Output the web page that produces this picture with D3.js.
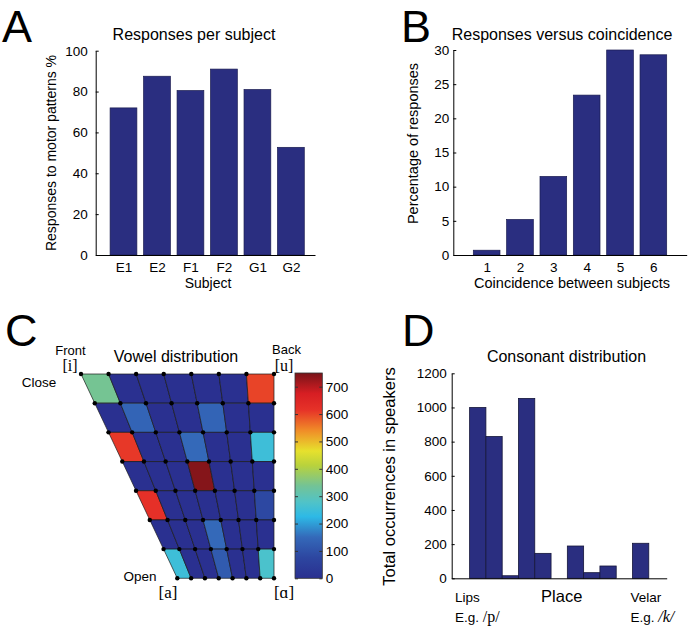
<!DOCTYPE html>
<html><head><meta charset="utf-8">
<script src="https://cdn.jsdelivr.net/npm/d3@7"></script>
<style>
html,body{margin:0;padding:0;background:#fff;}
text{font-family:"Liberation Sans",Arial,Helvetica,sans-serif;fill:#000;}
</style></head>
<body><div id="chart"></div>
<script>
// ---------- DATA ----------
const subjects = ["E1","E2","F1","F2","G1","G2"];
const subjectValues = [72, 87.5, 80.5, 91, 81, 52.7];
const subjectTicks = [0,20,40,60,80,100];

const coincidenceLevels = [1,2,3,4,5,6];
const coincidenceValues = [0.7, 5.2, 11.5, 23.4, 30, 29.3];
const coincidenceTicks = [0,5,10,15,20,25,30];

// vowel grid: rows close -> open, columns front -> back
const vowelRow0 = [340, 0, 0, 0, 0, 0, 600];
const vowelRow1 = [0, 140, 0, 0, 140, 0, 0];
const vowelRow2 = [610, 0, 0, 150, 0, 0, 250];
const vowelRow3 = [0, 0, 0, 740, 0, 0, 0];
const vowelRow4 = [620, 0, 0, 0, 0, 0, 80];
const vowelRow5 = [0, 0, 0, 150, 0, 0, 0];
const vowelRow6 = [250, 0, 0, 120, 0, 0, 270];
const vowelTicks = [0,100,200,300,400,500,600,700];

const consonantBins = [1,2,3,4,5,6,7,8,9,10,11];
const consonantValues = [1000, 830, 15, 1053, 146, 0, 189, 33, 72, 0, 205];
const consonantTicks = [0,200,400,600,800,1000,1200];

// colormap (jet-like, as rendered in the figure)
const cmapPos = [0, 0.1, 0.2, 0.3, 0.37, 0.45, 0.55, 0.62, 0.72, 0.82, 0.9, 1.0];
const cmapCol = ["#2a3090","#2d46a0","#3469b9","#2db9e6","#50c3c8","#73c396",
                 "#b9d23c","#e6e12d","#f08c28","#e63228","#d71e23","#781419"];

// ---------- SETUP ----------
const W = 691, H = 629;
const svg = d3.select("#chart").append("svg").attr("width", W).attr("height", H)
  .style("background","#fff");
const barFill = "#2a2e80", barStroke = "#1a1c50";
const tickFont = "13.5px";
const intFmt = d3.format("d");

function panelLetter(t, x, y){
  svg.append("text").attr("x", x).attr("y", y).attr("font-size", "45px").text(t);
}
function styleAxis(g){
  g.selectAll("path.domain").attr("stroke","#000").attr("stroke-width",1);
  g.selectAll("line").attr("stroke","#000");
  g.selectAll("text").attr("font-size", tickFont).attr("font-family","Liberation Sans, Arial, sans-serif").attr("fill","#000");
}

// ---------- PANEL A ----------
(function(){
  const x = d3.scaleLinear().domain([0.17, 6.72]).range([95.7, 315]);
  const y = d3.scaleLinear().domain([0, 100]).range([255, 50.7]);
  const idx = subjects.map((s,i)=>i+1);
  svg.append("g").selectAll("rect").data(subjectValues).join("rect")
    .attr("x",(d,i)=>x(idx[i]-0.4)).attr("width", x(1.4)-x(0.6))
    .attr("y", d=>y(d)).attr("height", d=>y(0)-y(d))
    .attr("fill", barFill).attr("stroke", barStroke).attr("stroke-width",0.7);
  const ya = svg.append("g").attr("transform","translate(95.7,0)")
    .call(d3.axisLeft(y).tickValues(subjectTicks).tickFormat(intFmt).tickSize(-3).tickSizeOuter(0).tickPadding(8));
  styleAxis(ya);
  const xa = svg.append("g").attr("transform","translate(0,255)")
    .call(d3.axisBottom(x).tickValues(idx).tickFormat((d,i)=>subjects[i]).tickSize(0).tickSizeOuter(0).tickPadding(7.4));
  styleAxis(xa);
  svg.append("text").attr("x",194).attr("y",39.5).attr("text-anchor","middle").attr("font-size","16px").text("Responses per subject");
  svg.append("text").attr("x",208).attr("y",288).attr("text-anchor","middle").attr("font-size","14px").text("Subject");
  svg.append("text").attr("transform","translate(55.5,153) rotate(-90)").attr("text-anchor","middle").attr("font-size","14px").text("Responses to motor patterns %");
  panelLetter("A", 2, 41.5);
})();

// ---------- PANEL B ----------
(function(){
  const x = d3.scaleLinear().domain([0, 7]).range([453.3, 686.7]);
  const y = d3.scaleLinear().domain([0, 30]).range([255, 50]);
  svg.append("g").selectAll("rect").data(coincidenceValues).join("rect")
    .attr("x",(d,i)=>x(coincidenceLevels[i]-0.4)).attr("width", x(0.8)-x(0))
    .attr("y", d=>y(d)).attr("height", d=>y(0)-y(d))
    .attr("fill", barFill).attr("stroke", barStroke).attr("stroke-width",0.7);
  const ya = svg.append("g").attr("transform","translate(453.3,0)")
    .call(d3.axisLeft(y).tickValues(coincidenceTicks).tickFormat(intFmt).tickSize(-3).tickSizeOuter(0).tickPadding(4));
  styleAxis(ya);
  const xa = svg.append("g").attr("transform","translate(0,255)")
    .call(d3.axisBottom(x).tickValues(coincidenceLevels).tickFormat(intFmt).tickSize(0).tickSizeOuter(0).tickPadding(7.4));
  styleAxis(xa);
  svg.append("text").attr("x",562).attr("y",39.5).attr("text-anchor","middle").attr("font-size","16px").text("Responses versus coincidence");
  svg.append("text").attr("x",572).attr("y",288).attr("text-anchor","middle").attr("font-size","14.5px").text("Coincidence between subjects");
  svg.append("text").attr("transform","translate(418,143.5) rotate(-90)").attr("text-anchor","middle").attr("font-size","14.5px").text("Percentage of responses");
  panelLetter("B", 401, 41.5);
})();

// ---------- PANEL C ----------
(function(){
  const vowelValues = [vowelRow0, vowelRow1, vowelRow2, vowelRow3, vowelRow4, vowelRow5, vowelRow6];
  const nR = vowelValues.length, nC = vowelRow0.length;
  const rowY = d3.scaleLinear().domain([0, nR]).range([374, 578.3]);
  const leftX = d3.scaleLinear().domain([0, nR]).range([81, 177.3]);
  const rightX = 274;
  const vx = (i,j) => d3.scaleLinear().domain([0, nC]).range([leftX(i), rightX])(j);
  const color = d3.scaleLinear().domain(cmapPos.map(p=>p*750)).range(cmapCol).clamp(true);
  const cells = [];
  vowelValues.forEach((row,i)=>row.forEach((v,j)=>cells.push({i,j,v})));
  svg.append("g").selectAll("polygon").data(cells).join("polygon")
    .attr("points", d=>[[vx(d.i,d.j),rowY(d.i)],[vx(d.i,d.j+1),rowY(d.i)],[vx(d.i+1,d.j+1),rowY(d.i+1)],[vx(d.i+1,d.j),rowY(d.i+1)]].map(p=>p.join(",")).join(" "))
    .attr("fill", d=>color(d.v)).attr("stroke","#1a1a1a").attr("stroke-width",0.7);
  const verts = [];
  for(let i=0;i<=nR;i++) for(let j=0;j<=nC;j++) verts.push([vx(i,j), rowY(i)]);
  svg.append("g").selectAll("circle").data(verts).join("circle")
    .attr("cx",d=>d[0]).attr("cy",d=>d[1]).attr("r",2.2).attr("fill","#000");

  // colorbar
  const cb = d3.scaleLinear().domain([0, 750]).range([578.3, 373]);
  const defs = svg.append("defs");
  const lg = defs.append("linearGradient").attr("id","cbgrad").attr("x1",0).attr("y1",1).attr("x2",0).attr("y2",0);
  cmapPos.forEach((p,k)=>lg.append("stop").attr("offset",p).attr("stop-color",cmapCol[k]));
  svg.append("rect").attr("x",295).attr("y",cb(750)).attr("width",27.3).attr("height",cb(0)-cb(750))
    .attr("fill","url(#cbgrad)").attr("stroke","#333").attr("stroke-width",0.8);
  const cba = svg.append("g").attr("transform","translate(322.3,0)")
    .call(d3.axisRight(cb).tickValues(vowelTicks).tickFormat(intFmt).tickSize(-3).tickSizeOuter(0).tickPadding(3.5));
  styleAxis(cba);
  cba.select("path.domain").remove();
  cba.selectAll("line").attr("stroke","#333");
  const cbl = svg.append("g").attr("transform","translate(295,0)")
    .call(d3.axisLeft(cb).tickValues(vowelTicks).tickSize(-3).tickFormat(""));
  cbl.select("path.domain").remove();
  cbl.selectAll("line").attr("stroke","#333");

  svg.append("text").attr("x",176).attr("y",361.5).attr("text-anchor","middle").attr("font-size","16px").text("Vowel distribution");
  const lab = (t,x,y,fs,anchor,serif)=>svg.append("text").attr("x",x).attr("y",y).attr("font-size",fs)
    .attr("text-anchor",anchor).style("font-family", serif ? "'Liberation Serif','DejaVu Serif',serif" : null).text(t);
  lab("Front",70.5,354.5,"13px","middle");
  lab("[i]",70,371,"16px","middle",true);
  lab("Back",286.5,354,"13px","middle");
  lab("[u]",284,371,"16px","middle",true);
  lab("Close",39,386.5,"13.5px","middle");
  lab("Open",140,580.5,"13.5px","middle");
  lab("[a]",168,598,"17px","middle",true);
  lab("[\u0251]",284,598,"17px","middle",true);
  panelLetter("C", 5, 346);
})();

// ---------- PANEL D ----------
(function(){
  const x = d3.scaleLinear().domain([-0.6, 12.6]).range([451.7, 666.7]);
  const y = d3.scaleLinear().domain([0, 1200]).range([578.3, 373.3]);
  const data = consonantValues.map((v,i)=>({b:consonantBins[i], v})).filter(d=>d.v>0);
  svg.append("g").selectAll("rect").data(data).join("rect")
    .attr("x", d=>x(d.b-0.5)).attr("width", x(1)-x(0))
    .attr("y", d=>y(d.v)).attr("height", d=>y(0)-y(d.v))
    .attr("fill", barFill).attr("stroke", "#15163a").attr("stroke-width",0.8);
  const ya = svg.append("g").attr("transform","translate(451.7,0)")
    .call(d3.axisLeft(y).tickValues(consonantTicks).tickFormat(intFmt).tickSize(-3).tickSizeOuter(0).tickPadding(5));
  styleAxis(ya);
  const xa = svg.append("g").attr("transform","translate(0,578.3)")
    .call(d3.axisBottom(x).tickValues([]).tickSize(0).tickSizeOuter(0));
  styleAxis(xa);
  svg.append("text").attr("x",566.5).attr("y",361.5).attr("text-anchor","middle").attr("font-size","16px").text("Consonant distribution");
  svg.append("text").attr("transform","translate(394.5,476.5) rotate(-90)").attr("text-anchor","middle").attr("font-size","16.5px").text("Total occurrences in speakers");
  svg.append("text").attr("x",455).attr("y",601.5).attr("font-size","13.5px").text("Lips");
  svg.append("text").attr("x",561.7).attr("y",601.5).attr("text-anchor","middle").attr("font-size","16.5px").text("Place");
  svg.append("text").attr("x",630.5).attr("y",601.5).attr("font-size","13.5px").text("Velar");
  const e1 = svg.append("text").attr("x",455).attr("y",621.5).attr("font-size","13.5px");
  e1.append("tspan").text("E.g. ");
  e1.append("tspan").style("font-family","'Liberation Serif',serif").attr("font-size","16px").text("/p/");
  const e2 = svg.append("text").attr("x",630.5).attr("y",621.5).attr("font-size","13.5px");
  e2.append("tspan").text("E.g. ");
  e2.append("tspan").style("font-family","'Liberation Serif',serif").attr("font-style","italic").attr("font-size","16px").text("/k/");
  panelLetter("D", 402, 346);
})();
</script></body></html>
